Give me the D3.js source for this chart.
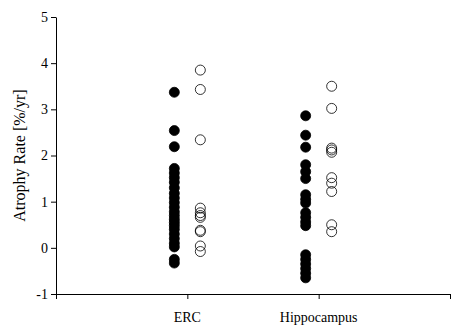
<!DOCTYPE html>
<html>
<head>
<meta charset="utf-8">
<script src="https://cdn.jsdelivr.net/npm/d3@7"></script>
<style>
  body { margin: 0; background: #fff; }
  svg text { font-family: "Liberation Serif", "Times New Roman", serif; fill: #000; }
</style>
</head>
<body>
<svg id="chart"></svg>
<script>
const categories = ["ERC", "Hippocampus"];
const yTicks = [-1, 0, 1, 2, 3, 4, 5];

// filled = first group, open = second group
const ercFilled = [3.37, 2.54, 2.19, 1.72, 1.62, 1.52, 1.42, 1.30, 1.18, 1.08, 0.98, 0.88, 0.78, 0.70, 0.62, 0.55, 0.48, 0.40, 0.30, 0.20, 0.10, 0.02, -0.25, -0.33];
const ercOpen = [3.85, 3.43, 2.34, 0.86, 0.76, 0.70, 0.66, 0.38, 0.35, 0.04, -0.08];
const hipFilled = [2.86, 2.44, 2.18, 1.80, 1.65, 1.50, 1.15, 1.05, 0.97, 0.76, 0.66, 0.56, 0.48, -0.15, -0.25, -0.35, -0.45, -0.55, -0.65];
const hipOpen = [3.50, 3.02, 2.16, 2.12, 2.07, 1.52, 1.40, 1.22, 0.50, 0.35];

const width = 462, height = 332;
const svg = d3.select("#chart").attr("width", width).attr("height", height);

const x = d3.scaleLinear().domain([0, 3]).range([56, 450]);
const y = d3.scaleLinear().domain([-1, 5]).range([294, 17]);

// Axes
svg.append("g")
    .attr("transform", `translate(0,${y(-1)})`)
    .call(d3.axisBottom(x).tickValues([0, 1, 2, 3]).tickFormat("").tickSize(5).tickSizeOuter(0))
    .call(g => g.selectAll("line, path").attr("stroke", "#000"));

svg.append("g")
    .attr("transform", `translate(${x(0)},0)`)
    .call(d3.axisLeft(y).tickValues(yTicks).tickFormat(d => String(d)).tickSize(5).tickSizeOuter(0).tickPadding(3))
    .call(g => g.selectAll("line, path").attr("stroke", "#000"))
    .call(g => g.selectAll("text").style("font-size", "14px"));

// Category labels
svg.selectAll(".cat")
    .data(categories)
    .enter()
    .append("text")
    .attr("class", "cat")
    .attr("x", (d, i) => x(i + 1))
    .attr("y", 322)
    .attr("text-anchor", "middle")
    .style("font-size", "14px")
    .text(d => d);

// Y label
svg.append("text")
    .attr("transform", `translate(25,${(y(5) + y(-1)) / 2}) rotate(-90)`)
    .attr("text-anchor", "middle")
    .style("font-size", "16px")
    .text("Atrophy Rate [%/yr]");

const off = 13;
const groups = [
    {vals: ercFilled, cx: x(1) - off, fill: "#000"},
    {vals: ercOpen, cx: x(1) + off, fill: "#fff"},
    {vals: hipFilled, cx: x(2) - off, fill: "#000"},
    {vals: hipOpen, cx: x(2) + off, fill: "#fff"}
];

groups.forEach(gr => {
    svg.append("g")
        .selectAll("circle")
        .data(gr.vals)
        .enter()
        .append("circle")
        .attr("cx", gr.cx)
        .attr("cy", d => y(d))
        .attr("r", 5)
        .attr("fill", gr.fill)
        .attr("fill-opacity", gr.fill === "#fff" ? 0 : 1)
        .attr("stroke", "#000")
        .attr("stroke-width", 0.8);
});
</script>
</body>
</html>
